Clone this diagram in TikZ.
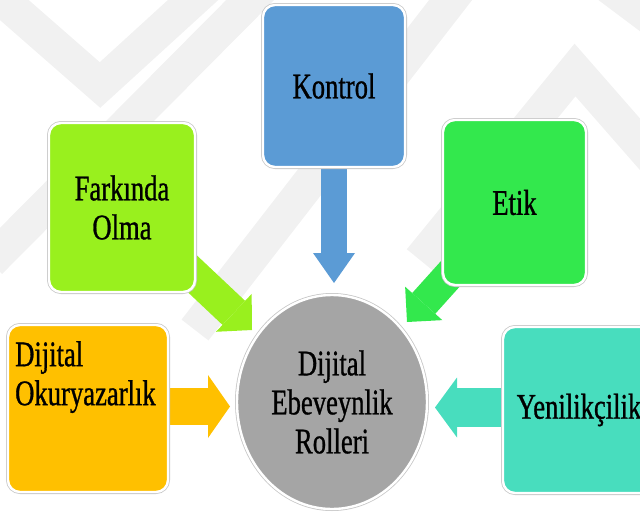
\documentclass[tikz,border=0pt]{standalone}
\usepackage{fontspec}
\setmainfont{Liberation Serif}[FakeStretch=0.74,FakeBold=0.8]
\usetikzlibrary{arrows.meta,shapes.geometric,backgrounds}
\definecolor{cblue}{HTML}{5B9BD5}
\definecolor{clime}{HTML}{99F01E}
\definecolor{cgreen}{HTML}{33E84D}
\definecolor{cgold}{HTML}{FFC000}
\definecolor{cteal}{HTML}{48DDBE}
\definecolor{cgray}{HTML}{A5A5A5}
\definecolor{wmark}{HTML}{F1F1F1}
\tikzset{
  box/.style={rectangle, rounded corners=12pt, inner sep=0pt,
    preaction={draw=black!22, line width=4pt},
    draw=white, line width=2.4pt, font=\fontsize{36}{39}\selectfont, align=center},
  hub/.style={ellipse, inner sep=0pt,
    preaction={draw=black!22, line width=4pt},
    draw=white, line width=2.4pt, fill=cgray, font=\fontsize{36}{39}\selectfont, align=center},
  band/.style={draw=wmark, line width=34pt, line cap=butt, line join=miter},
  barrow/.style args={#1/#2/#3/#4}{draw=#1, line width=#2, line cap=butt,
    -{Triangle[length=#4, width=#3, line width=0pt]}}
}
\begin{document}
\begin{tikzpicture}[x=1pt,y=-1pt]
\useasboundingbox (0,0) rectangle (640,517);
\clip (0,0) rectangle (640,517);
% nodes
\node[box, fill=cblue, minimum width=142pt, minimum height=162pt] (ko) at (334,86) {Kontrol};
\node[box, fill=clime, minimum width=146pt, minimum height=169pt] (fo) at (122,207.5) {Farkında\\Olma};
\node[box, fill=cgreen, minimum width=143pt, minimum height=165pt] (et) at (514.5,202.5) {Etik};
\node[box, fill=cgold, minimum width=160pt, minimum height=167pt] (ok) at (88,408.5) {};
\node[box, fill=cteal, minimum width=152pt, minimum height=166pt] (ye) at (579,410) {Yenilikçilik};
\node[hub, minimum width=190pt, minimum height=214pt] (hub) at (332,402) {Dijital\\Ebeveynlik\\Rolleri};
\node[anchor=north west, align=left, inner sep=0pt, font=\fontsize{36}{39}\selectfont] (oktext) at (15,341) {Dijital\\Okuryazarlık};
% arrow tips
\coordinate (tko) at (334,283);
\coordinate (tfo) at (252,330);
\coordinate (tet) at (407,322);
\coordinate (tok) at (230,406.5);
\coordinate (tye) at (435,407.5);
\begin{scope}[on background layer]
  % faint watermark
  \draw[band] (-20,-20) -- (100,85) -- (215,-20);
  \draw[band] (-10,262) -- (275,-25);
  \draw[band] (195,330) -- (470,-25);
  \draw[band] (420,260) -- (575,70) -- (680,190);
  \draw[band] (600,-20) -- (680,40);
  % arrows
  \draw[barrow={cblue/26pt/42pt/30pt}] (ko.south) -- (tko);
  \draw[barrow={clime/33pt/52pt/25pt}] (fo.center) -- (tfo);
  \draw[barrow={cgreen/31pt/50pt/25pt}] (et.center) -- (tet);
  \draw[barrow={cgold/37pt/63pt/22pt}] (ok.east |- tok) -- (tok);
  \draw[barrow={cteal/39pt/60pt/22pt}] (ye.west |- tye) -- (tye);
\end{scope}
\end{tikzpicture}
\end{document}
